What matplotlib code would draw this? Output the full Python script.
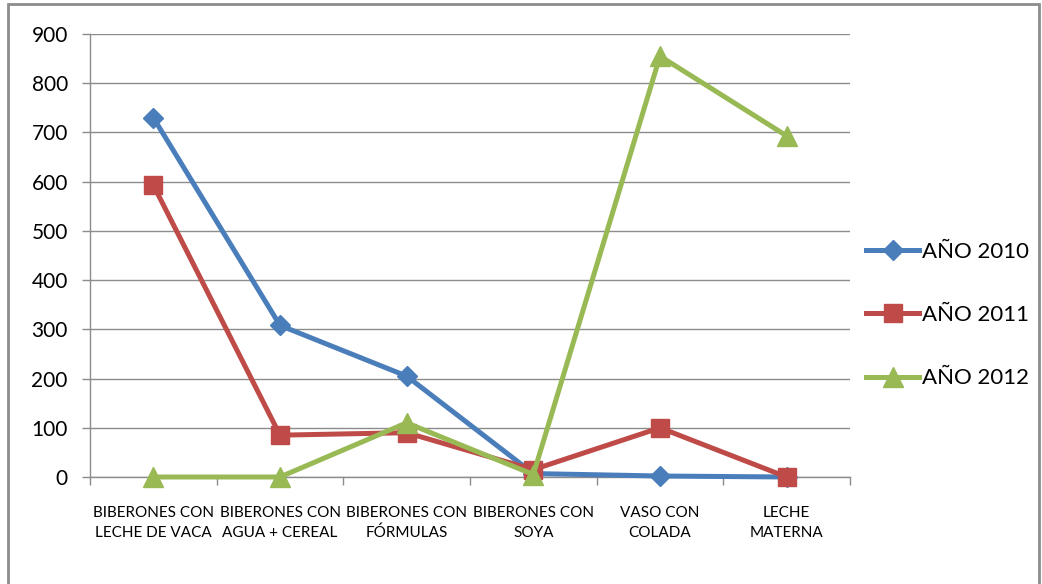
import matplotlib
matplotlib.use("Agg")
import matplotlib.pyplot as plt
from matplotlib.lines import Line2D
from matplotlib.patches import Rectangle

categories = ["BIBERONES CON\nLECHE DE VACA", "BIBERONES CON\nAGUA + CEREAL", "BIBERONES CON\nFÓRMULAS",
              "BIBERONES CON\nSOYA", "VASO CON\nCOLADA", "LECHE\nMATERNA"]
series_names = ["AÑO 2010", "AÑO 2011", "AÑO 2012"]
values_2010 = [730, 308, 205, 7, 2, 0]
values_2011 = [593, 85, 90, 15, 100, 0]
values_2012 = [0, 0, 110, 5, 855, 693]
y_ticks = [0, 100, 200, 300, 400, 500, 600, 700, 800, 900]

colors = ["#4A7EBB", "#BE4B48", "#98B954"]
markers = ["D", "s", "^"]
msizes = [10, 13, 14]

plt.rcParams['font.family'] = ['Lato', 'DejaVu Sans']

fig = plt.figure(figsize=(10.42, 5.84), dpi=100)
ax = fig.add_axes([90/1042, 1-477/584, 760/1042, 443/584])

x = list(range(len(categories)))
for vals, name, c, m, ms in zip([values_2010, values_2011, values_2012], series_names, colors, markers, msizes):
    ax.plot(x, vals, color=c, lw=3.6, marker=m, markersize=ms, markeredgecolor=c,
            markerfacecolor=c, label=name, clip_on=False, zorder=3)

ax.set_xlim(-0.5, len(categories) - 0.5)
ax.set_ylim(0, 900)
ax.set_yticks(y_ticks)
ax.set_yticklabels([str(v) for v in y_ticks], fontsize=15)
ax.yaxis.grid(True, color="#8c8c8c", lw=1)
ax.set_axisbelow(True)
ax.tick_params(axis='y', length=6, color="#8c8c8c", pad=10, width=1)

ax.set_xticks([i - 0.5 for i in range(len(categories) + 1)])
ax.set_xticklabels([])
ax.set_xticks(x, minor=True)
ax.set_xticklabels(categories, minor=True, fontsize=11, linespacing=1.5)
ax.tick_params(axis='x', which='major', length=6, color="#8c8c8c", width=1)
ax.tick_params(axis='x', which='minor', length=0, pad=21)

for s in ["top", "right"]:
    ax.spines[s].set_visible(False)
for s in ["left", "bottom"]:
    ax.spines[s].set_color("#8c8c8c")
    ax.spines[s].set_linewidth(1)

handles = [Line2D([], [], color=c, lw=3.6, marker=m, markersize=ms, markeredgecolor=c)
           for c, m, ms in zip(colors, markers, msizes)]
fig.legend(handles, series_names, loc="center left", bbox_to_anchor=(866/1042, 1-315/584),
           frameon=False, fontsize=16, handlelength=2.4, handletextpad=0.1, labelspacing=1.95,
           borderpad=0, borderaxespad=0)

fig.patches.append(Rectangle((8/1042, -0.05), (1039-8)/1042, 1-4/584 + 0.05, transform=fig.transFigure,
                             fill=False, edgecolor="#8c8c8c", lw=2))

fig.savefig("out.png", dpi=100)
